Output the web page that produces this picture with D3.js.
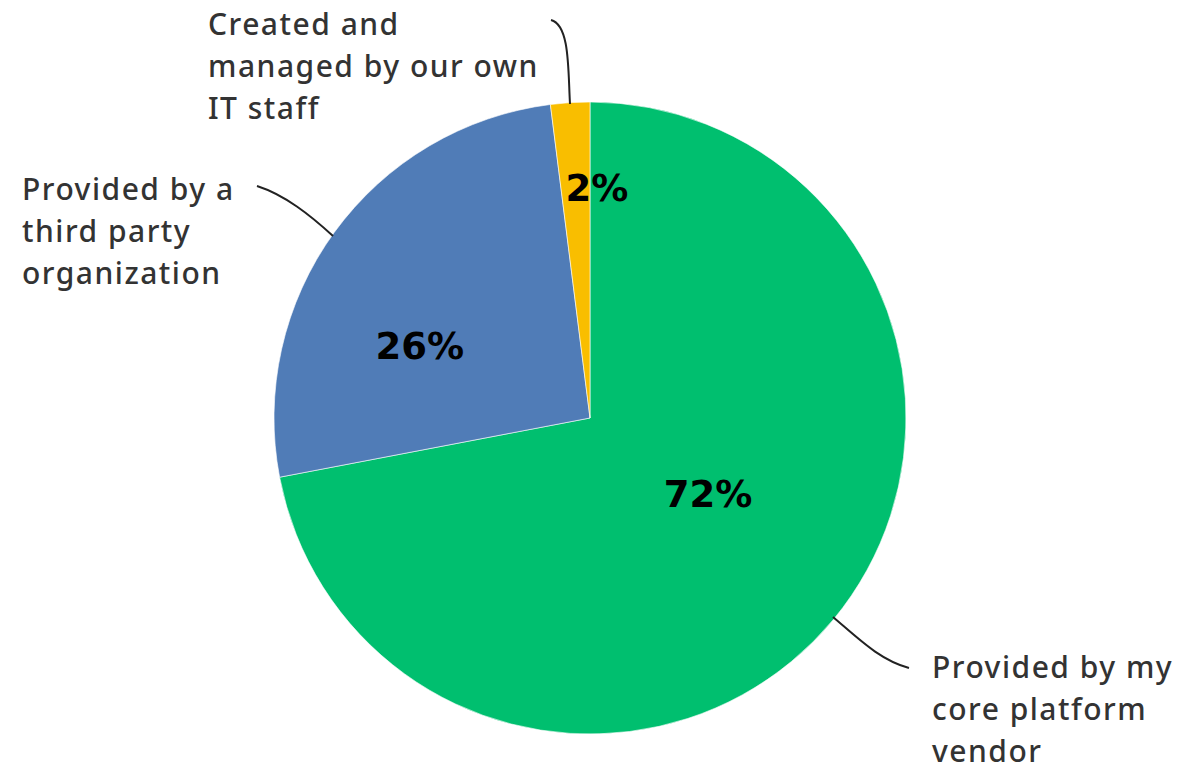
<!DOCTYPE html>
<html>
<head>
<meta charset="utf-8">
<script src="https://cdn.jsdelivr.net/npm/d3@7"></script>
<style>
  body { margin: 0; background: #fff; }
  .lbl { font-family: "Noto Sans", sans-serif; font-size: 30px; font-weight: 500; letter-spacing: 1.5px; fill: #333; }
  .pct { font-family: "DejaVu Sans", sans-serif; font-size: 37px; font-weight: bold; fill: #000; }
</style>
</head>
<body>
<div id="chart"></div>
<script>
// slice data
var categories = ["Provided by my core platform vendor", "Provided by a third party organization", "Created and managed by our own IT staff"];
var values = [72, 26, 2];
var colors = ["#00BF6F", "#507CB7", "#F9BE00"];
var labelLines = [
  ["Provided by my", "core platform", "vendor"],
  ["Provided by a", "third party", "organization"],
  ["Created and", "managed by our own", "IT staff"]
];

var svgWidth = 1184;
var svgHeight = 771;
var cx = 590, cy = 418, radius = 316;

var svg = d3.select("#chart")
  .append("svg")
  .attr("width", svgWidth)
  .attr("height", svgHeight);

var g = svg.append("g")
  .attr("transform", `translate(${cx}, ${cy})`);

var pie = d3.pie().sort(null).value(d => d);
var arcs = pie(values);

var arc = d3.arc().innerRadius(0).outerRadius(radius);

g.selectAll("path.slice")
  .data(arcs)
  .enter()
  .append("path")
  .attr("class", "slice")
  .attr("d", arc)
  .attr("fill", (d, i) => colors[i])
  .attr("stroke", "#fff")
  .attr("stroke-width", 0.6);

// percent label placement: fraction of radius + angle shift (degrees) from slice middle
var pctRadius = [0.443, 0.585, 0.73];
var pctShift = [-7, -13, 5.3];
function pctPos(d, i) {
  var a = (d.startAngle + d.endAngle) / 2 + pctShift[i] * Math.PI / 180;
  var r = radius * pctRadius[i];
  return [r * Math.sin(a), -r * Math.cos(a)];
}
g.selectAll("text.pct")
  .data(arcs)
  .enter()
  .append("text")
  .attr("class", "pct")
  .attr("text-anchor", "middle")
  .attr("x", (d, i) => pctPos(d, i)[0])
  .attr("y", (d, i) => pctPos(d, i)[1] + 13.5)
  .text(d => d.data + "%");

// outside labels
var labelPos = [[932, 678], [22, 200], [208, 35]];
var lineHeight = 42;
labelLines.forEach(function(lines, i) {
  var t = svg.append("text")
    .attr("class", "lbl")
    .attr("x", labelPos[i][0])
    .attr("y", labelPos[i][1]);
  lines.forEach(function(s, j) {
    t.append("tspan")
      .attr("x", labelPos[i][0])
      .attr("y", labelPos[i][1] + j * lineHeight)
      .text(s);
  });
});

// leader lines from slice edge to label
var leaders = [
  "M833,617 C860,640 880,660 909,668",
  "M333,236 C310,215 285,195 257,186",
  "M570,104 C568,70 570,25 551,20"
];
svg.selectAll("path.leader")
  .data(leaders)
  .enter()
  .append("path")
  .attr("class", "leader")
  .attr("d", d => d)
  .attr("fill", "none")
  .attr("stroke", "#222")
  .attr("stroke-width", 2);
</script>
</body>
</html>
